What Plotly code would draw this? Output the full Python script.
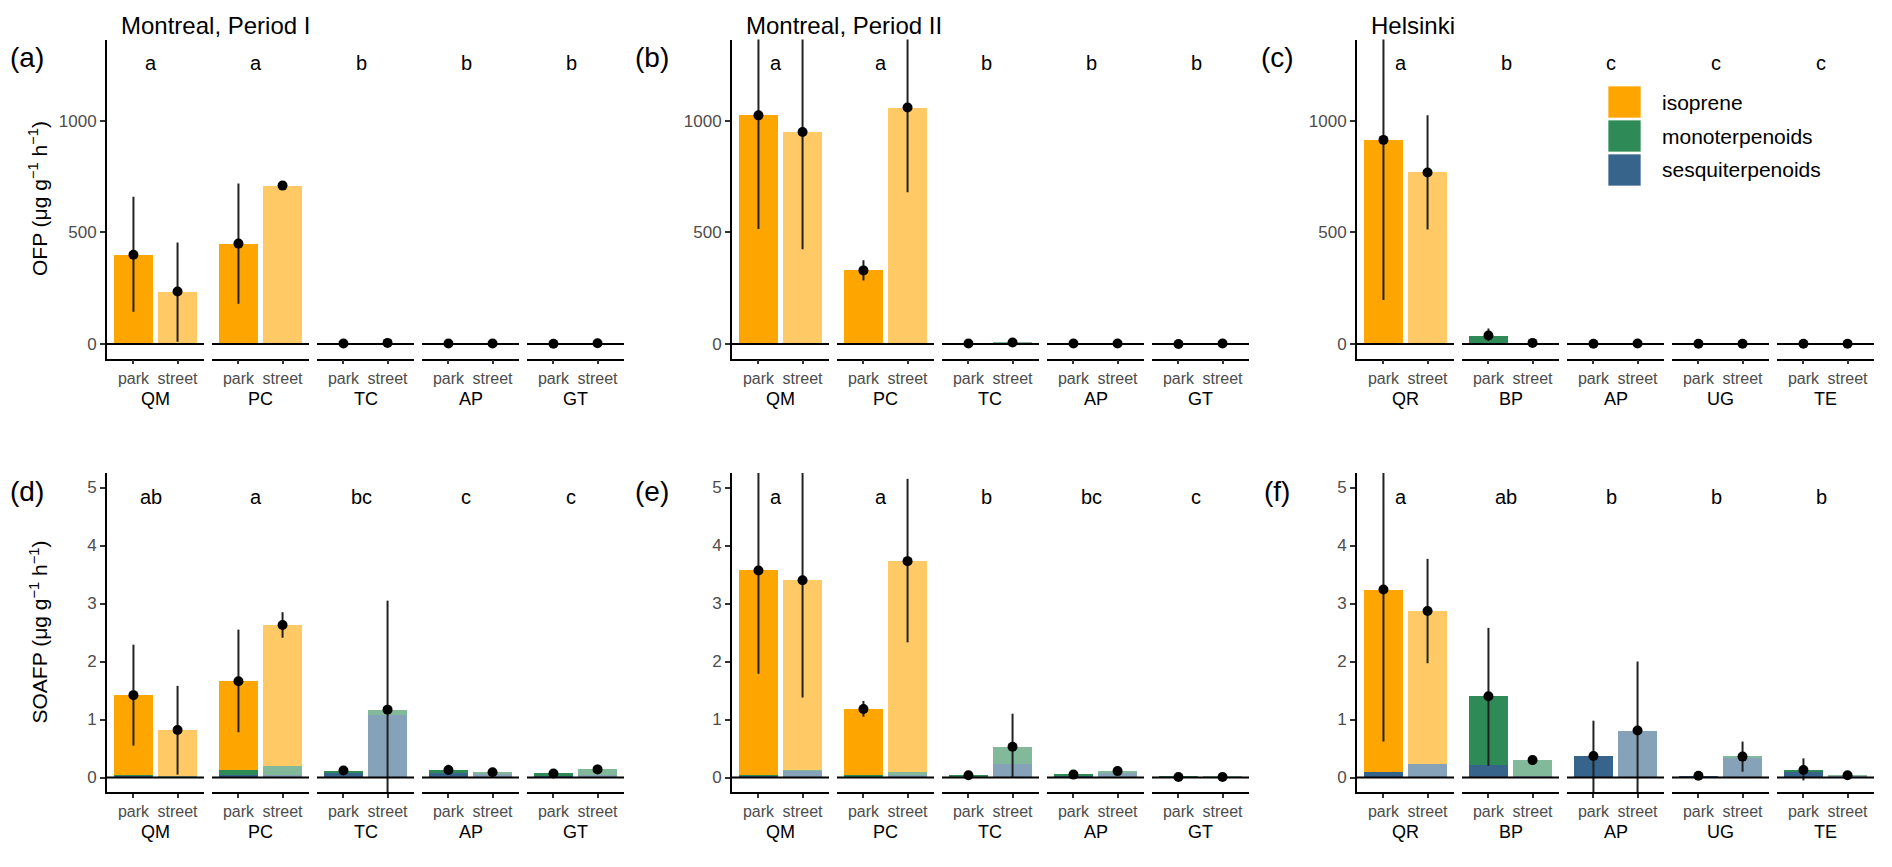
"""OFP / SOAFP by species and site: 2x3 panels, 5 facets each."""

import plotly.graph_objects as go

W, H = 1892, 867
_FONT = "Liberation Sans, Arial, sans-serif"
_TICK = "#4D4D4D"

SPECIES_MTL = ["QM", "PC", "TC", "AP", "GT"]
SPECIES_HEL = ["QR", "BP", "AP", "UG", "TE"]
SITES = ["park", "street"]

# every list: (park, street) for each species, in species order
# (a) OFP, Montreal period I
ofp_m1_iso = [398, 233, 448, 708, 0, 0, 0, 0, 0, 0]
ofp_m1_mono = [1, 1, 1, 1, 1, 3, 1, 1, 1, 2]
ofp_m1_sesq = [1, 1, 1, 1, 1, 2, 1, 1, 0, 1]
ofp_m1_lo = [145, 10, 180, 702, 0, 2, 0, 0, 0, 0]
ofp_m1_hi = [660, 455, 720, 718, 3, 8, 2, 2, 2, 4]
letters_a = ["a", "a", "b", "b", "b"]

# (b) OFP, Montreal period II
ofp_m2_iso = [1023, 948, 328, 1058, 0, 0, 0, 0, 0, 0]
ofp_m2_mono = [1, 1, 1, 1, 1, 4, 1, 1, 0, 1]
ofp_m2_sesq = [1, 1, 1, 1, 1, 3, 1, 1, 0, 1]
ofp_m2_lo = [515, 425, 285, 680, 0, 3, 0, 0, 0, 0]
ofp_m2_hi = [1600, 1500, 375, 1500, 3, 14, 3, 3, 1, 3]
letters_b = ["a", "a", "b", "b", "b"]

# (c) OFP, Helsinki
ofp_h_iso = [913, 767, 0, 0, 0, 0, 0, 0, 0, 0]
ofp_h_mono = [1, 1, 34, 4, 0, 1, 0, 0, 0, 0]
ofp_h_sesq = [1, 1, 4, 1, 1, 1, 1, 1, 1, 1]
ofp_h_lo = [197, 513, 15, 2, 0, 0, 0, 0, 0, 0]
ofp_h_hi = [1600, 1025, 70, 8, 2, 3, 2, 2, 2, 2]
letters_c = ["a", "b", "c", "c", "c"]

# (d) SOAFP, Montreal period I
soa_m1_iso = [1.37, 0.80, 1.53, 2.43, 0, 0, 0, 0, 0, 0]
soa_m1_mono = [0.01, 0.01, 0.09, 0.15, 0.05, 0.09, 0.05, 0.02, 0.05, 0.10]
soa_m1_sesq = [0.04, 0.01, 0.04, 0.05, 0.07, 1.08, 0.08, 0.07, 0.02, 0.04]
soa_m1_lo = [0.55, 0.05, 0.78, 2.41, 0.08, -0.70, 0.05, 0.06, 0.04, 0.06]
soa_m1_hi = [2.29, 1.58, 2.55, 2.85, 0.17, 3.05, 0.22, 0.12, 0.10, 0.22]
letters_d = ["ab", "a", "bc", "c", "c"]

# (e) SOAFP, Montreal period II
soa_m2_iso = [3.52, 3.27, 1.14, 3.63, 0, 0, 0, 0, 0, 0]
soa_m2_mono = [0.01, 0.01, 0.03, 0.05, 0.03, 0.30, 0.02, 0.04, 0.005, 0.005]
soa_m2_sesq = [0.04, 0.12, 0.01, 0.05, 0.01, 0.23, 0.03, 0.07, 0.005, 0.005]
soa_m2_lo = [1.79, 1.38, 1.05, 2.33, 0.02, 0.00, 0.03, 0.08, 0.00, 0.00]
soa_m2_hi = [6.5, 6.5, 1.32, 5.15, 0.06, 1.10, 0.07, 0.15, 0.02, 0.02]
letters_e = ["a", "a", "b", "bc", "c"]

# (f) SOAFP, Helsinki
soa_h_iso = [3.14, 2.63, 0, 0, 0, 0, 0, 0, 0, 0]
soa_h_mono = [0.0, 0.0, 1.19, 0.27, 0.0, 0.0, 0.0, 0.01, 0.02, 0.01]
soa_h_sesq = [0.10, 0.24, 0.21, 0.03, 0.37, 0.81, 0.03, 0.35, 0.11, 0.03]
soa_h_lo = [0.62, 1.97, 0.20, 0.26, -0.50, -0.40, 0.01, 0.10, -0.05, 0.02]
soa_h_hi = [6.5, 3.77, 2.58, 0.34, 0.98, 2.00, 0.05, 0.62, 0.33, 0.06]
letters_f = ["a", "ab", "b", "b", "b"]

COMPONENTS = ["sesquiterpenoids", "monoterpenoids", "isoprene"]  # stack order
COLORS = {
    "isoprene": ("#FFA500", "#FFC966"),
    "monoterpenoids": ("#2E8B57", "#82B99A"),
    "sesquiterpenoids": ("#36648B", "#86A2B9"),
}

ROWS = [
    dict(range=[-65, 1365], ticks=[0, 500, 1000], letter_y=1260,
         top=39.5, bottom=358.5,
         title="OFP (μg g<sup>−1</sup> h<sup>−1</sup>)"),
    dict(range=[-0.25, 5.25], ticks=[0, 1, 2, 3, 4, 5], letter_y=4.83,
         top=473, bottom=792,
         title="SOAFP (μg g<sup>−1</sup> h<sup>−1</sup>)"),
]
COL_X0 = [107, 732, 1357]
FACET_W, FACET_GAP = 97, 8

PANELS = [
    (0, 0, "(a)", "Montreal, Period I", SPECIES_MTL,
     [ofp_m1_sesq, ofp_m1_mono, ofp_m1_iso], ofp_m1_lo, ofp_m1_hi, letters_a),
    (0, 1, "(b)", "Montreal, Period II", SPECIES_MTL,
     [ofp_m2_sesq, ofp_m2_mono, ofp_m2_iso], ofp_m2_lo, ofp_m2_hi, letters_b),
    (0, 2, "(c)", "Helsinki", SPECIES_HEL,
     [ofp_h_sesq, ofp_h_mono, ofp_h_iso], ofp_h_lo, ofp_h_hi, letters_c),
    (1, 0, "(d)", None, SPECIES_MTL,
     [soa_m1_sesq, soa_m1_mono, soa_m1_iso], soa_m1_lo, soa_m1_hi, letters_d),
    (1, 1, "(e)", None, SPECIES_MTL,
     [soa_m2_sesq, soa_m2_mono, soa_m2_iso], soa_m2_lo, soa_m2_hi, letters_e),
    (1, 2, "(f)", None, SPECIES_HEL,
     [soa_h_sesq, soa_h_mono, soa_h_iso], soa_h_lo, soa_h_hi, letters_f),
]


def px(x):
    return x / W


def py(y):
    return 1 - y / H


def note(text, x, y, size, xanchor="center", **kw):
    """Paper-positioned text, x/y given in pixels from the top-left."""
    return dict(
        text=text, x=px(x), y=py(y), xref="paper", yref="paper",
        xanchor=xanchor, yanchor="middle", showarrow=False,
        font=dict(size=size, color="black"), **kw,
    )


fig = go.Figure()
layout = {}
shapes, annotations = [], []
n = 0

for row, col, tag, title, species, comps, lo, hi, letters in PANELS:
    r = ROWS[row]
    ax0 = COL_X0[col]
    for f, sp in enumerate(species):
        n += 1
        xa = "x" if n == 1 else f"x{n}"
        ya = "y" if n == 1 else f"y{n}"
        x0 = ax0 + f * (FACET_W + FACET_GAP)
        x1 = x0 + FACET_W
        i, j = 2 * f, 2 * f + 1

        layout["xaxis" if n == 1 else f"xaxis{n}"] = dict(
            domain=[px(x0), px(x1)], anchor=ya, range=[-0.6, 1.6],
            tickmode="array", tickvals=[0, 1], ticktext=SITES,
            showline=True, linecolor="black", linewidth=1.8,
            ticks="outside", ticklen=4, tickwidth=1.5, tickcolor="#333",
            tickfont=dict(size=16, color=_TICK),
            showgrid=False, zeroline=False, fixedrange=True,
        )
        yax = dict(
            domain=[py(r["bottom"]), py(r["top"])], anchor=xa,
            range=r["range"], showgrid=False, zeroline=False, fixedrange=True,
        )
        if f == 0:
            yax.update(
                showline=True, linecolor="black", linewidth=1.8,
                tickmode="array", tickvals=r["ticks"],
                ticks="outside", ticklen=5, tickwidth=1.5, tickcolor="#333",
                tickfont=dict(size=17, color=_TICK),
            )
        else:
            yax.update(showticklabels=False, ticks="", showline=False)
        layout["yaxis" if n == 1 else f"yaxis{n}"] = yax

        for name, vals in zip(COMPONENTS, comps):
            fig.add_trace(go.Bar(
                x=[0, 1], y=[vals[i], vals[j]], width=0.9,
                marker=dict(color=list(COLORS[name]), line_width=0),
                name=name, showlegend=False, xaxis=xa, yaxis=ya,
            ))
        tot = [sum(c[k] for c in comps) for k in (i, j)]
        fig.add_trace(go.Scatter(
            x=[0, 1], y=tot, mode="markers",
            marker=dict(color="black", size=10),
            error_y=dict(
                type="data", symmetric=False,
                array=[hi[i] - tot[0], hi[j] - tot[1]],
                arrayminus=[tot[0] - lo[i], tot[1] - lo[j]],
                width=0, thickness=2, color="#222",
            ),
            showlegend=False, xaxis=xa, yaxis=ya,
        ))
        shapes.append(dict(
            type="line", xref=f"{xa} domain", yref=ya, x0=0, x1=1, y0=0, y1=0,
            line=dict(color="black", width=1.8), layer="above",
        ))
        annotations.append(dict(
            text=letters[f], x=0.4, y=r["letter_y"], xref=xa, yref=ya,
            xanchor="center", yanchor="middle",
            showarrow=False, font=dict(size=20, color="black"),
        ))
        annotations.append(note(sp, (x0 + x1) / 2, r["bottom"] + 40, 18))

    annotations.append(note(tag, ax0 - 80, r["top"] + 18, 28))
    if title:
        annotations.append(note(title, ax0 + 12, 26, 24, xanchor="left"))
    if col == 0:
        annotations.append(note(
            r["title"], 38, (r["top"] + r["bottom"]) / 2, 21, textangle=-90,
        ))

# legend inside panel (c)
for k, name in enumerate(["isoprene", "monoterpenoids", "sesquiterpenoids"]):
    top = 86 + k * 34
    shapes.append(dict(
        type="rect", xref="paper", yref="paper",
        x0=px(1608), x1=px(1641), y0=py(top + 32), y1=py(top),
        fillcolor=COLORS[name][0],
        line=dict(color="rgba(255,255,255,0.7)", width=1),
    ))
    annotations.append(note(name, 1660, top + 16, 21, xanchor="left"))

fig.update_layout(
    **layout,
    width=W, height=H, autosize=False,
    margin=dict(l=0, r=0, t=0, b=0),
    barmode="stack", showlegend=False,
    shapes=shapes, annotations=annotations,
    font=dict(family=_FONT, size=17, color="black"),
    plot_bgcolor="white", paper_bgcolor="white",
)
fig.write_html(
    "out.html",
    config={"displayModeBar": False},
    post_script="document.body.style.margin='0';",
)
